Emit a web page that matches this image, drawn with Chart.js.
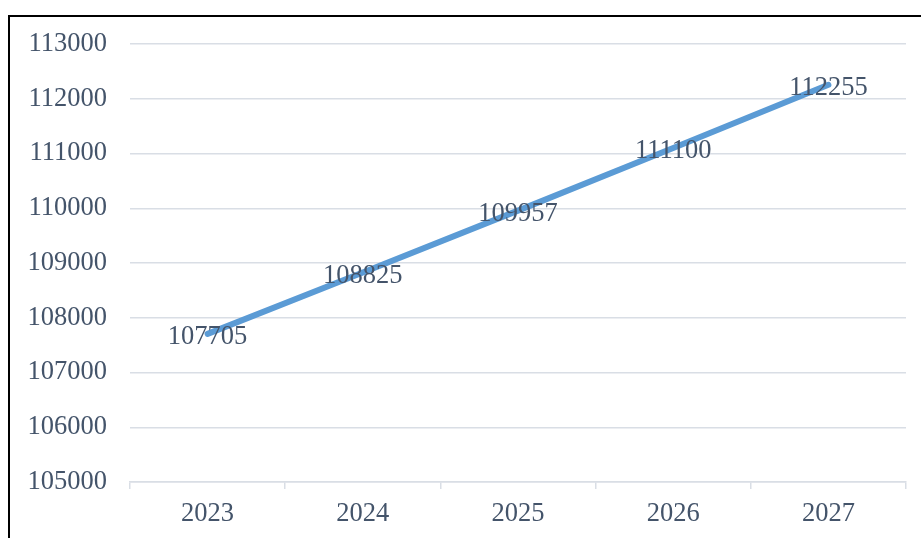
<!DOCTYPE html>
<html lang="en">
<head>
   <meta charset="UTF-8">
   <title>Forecast</title>
   <script src="https://cdn.jsdelivr.net/npm/chart.js"></script>
   <style>
       body { margin: 0; background: #fff; }
       #frame {
           position: absolute; left: 8px; top: 15px;
           width: 940px; height: 560px;
           border-left: 2px solid #000; border-top: 2px solid #000;
       }
       #myChart { position: absolute; left: 0; top: 0; }
   </style>
</head>
<body>
   <div id="frame"></div>
   <canvas id="myChart" width="921" height="538"></canvas>
   <script>
       const years = ['2023', '2024', '2025', '2026', '2027'];
       const values = [107705, 108825, 109957, 111100, 112255];
       const yMin = 105000;
       const yMax = 113000;
       const yStep = 1000;

       const textColor = '#44546A';
       const gridColor = '#d9dee5';
       const serif = { family: '"Liberation Serif", "Times New Roman", serif', size: 26.5 };

       // write each value on top of its point
       const valueLabels = {
           id: 'valueLabels',
           afterDatasetsDraw(chart) {
               const ctx = chart.ctx;
               const meta = chart.getDatasetMeta(0);
               ctx.save();
               ctx.font = serif.size + 'px ' + serif.family;
               ctx.fillStyle = textColor;
               ctx.textAlign = 'center';
               ctx.textBaseline = 'middle';
               meta.data.forEach((pt, i) => {
                   ctx.fillText(String(chart.data.datasets[0].data[i]), pt.x, pt.y + 3);
               });
               ctx.restore();
           }
       };

       const ctx = document.getElementById('myChart');

       new Chart(ctx, {
           type: 'line',
           data: {
               labels: years,
               datasets: [{
                   data: values,
                   borderColor: '#5B9BD5',
                   borderWidth: 6,
                   borderCapStyle: 'round',
                   pointRadius: 0,
                   tension: 0,
                   fill: false
               }]
           },
           options: {
               responsive: false,
               animation: false,
               layout: { padding: { top: 44, right: 15, left: 0, bottom: 0 } },
               plugins: { legend: { display: false }, tooltip: { enabled: false } },
               scales: {
                   y: {
                       min: yMin,
                       max: yMax,
                       afterFit(scale) { scale.width = 130; },
                       ticks: {
                           stepSize: yStep,
                           padding: 23,
                           color: textColor,
                           font: serif,
                           callback: v => String(v)
                       },
                       grid: { color: gridColor, lineWidth: 1.5, drawTicks: false },
                       border: { display: false }
                   },
                   x: {
                       offset: true,
                       afterFit(scale) { scale.height = 56; },
                       ticks: { padding: 9, color: textColor, font: serif },
                       grid: {
                           offset: true,
                           drawOnChartArea: false,
                           drawTicks: true,
                           tickLength: 7,
                           color: gridColor,
                           lineWidth: 1.5
                       },
                       border: { color: gridColor, width: 1.5 }
                   }
               }
           },
           plugins: [valueLabels]
       });
   </script>
</body>
</html>
